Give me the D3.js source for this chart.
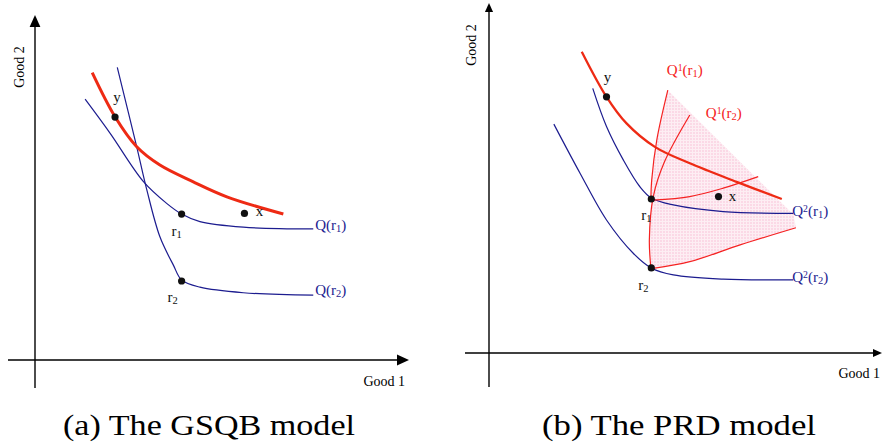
<!DOCTYPE html>
<html>
<head>
<meta charset="utf-8">
<script src="https://cdn.jsdelivr.net/npm/d3@7"></script>
<style>
  body { margin: 0; background: #fff; }
  svg text { font-family: "Liberation Serif", "DejaVu Serif", "Times New Roman", serif; }
</style>
</head>
<body>
<svg id="chart" width="883" height="448"></svg>
<script>
// ---------- panel (a): the GSQB model ----------
// curves are read off the picture, in axis units (0..100 on each axis)
const aBudget = [[15.3, 83.3], [21.4, 70.5], [27.2, 61.8], [33.4, 56.5], [42.2, 51.7], [51.3, 47.3], [66.4, 42.3]];
const aQr1 = [[13.4, 75.6], [20.1, 65.7], [29.0, 51.7], [35.2, 45.4], [39.2, 42.3], [44.1, 40.1], [55.7, 38.5], [74.4, 38.0]];
const aQr2 = [[22.0, 84.8], [27.2, 61.8], [29.9, 49.3], [33.4, 35.7], [37.0, 27.5], [39.2, 23.2], [44.1, 21.1], [55.7, 19.5], [74.4, 18.8]];
const aPoints = [
    {name: "y", x: 21.4, y: 70.4},
    {name: "x", x: 56.0, y: 42.5},
    {name: "r1", x: 39.2, y: 42.3},
    {name: "r2", x: 39.2, y: 22.9}
];

// ---------- panel (b): the PRD model ----------
const bBudget = [[23.6, 86.1], [29.9, 73.2], [35.0, 65.6], [42.2, 58.9], [51.1, 54.2], [63.0, 48.9], [74.5, 44.0]];
const bQ2r1 = [[26.4, 75.6], [29.9, 64.7], [34.2, 55.1], [38.4, 47.5], [41.4, 44.2], [46.9, 42.3], [59.6, 40.4], [77.4, 39.9]];
const bQ2r2 = [[16.5, 65.4], [23.2, 51.3], [29.9, 38.0], [36.7, 28.5], [41.4, 24.2], [46.9, 22.3], [59.6, 21.1], [77.4, 20.9]];
const bQ1r1Up = [[41.2, 43.9], [41.4, 49.4], [42.7, 60.9], [45.5, 75.1]];
const bQ1r1Right = [[41.8, 43.7], [51.1, 44.7], [59.6, 47.1], [68.5, 50.4]];
const bQ1r2Up = [[41.2, 24.2], [40.8, 32.3], [41.8, 44.7], [44.6, 54.5], [51.1, 68.0]];
const bQ1r2Right = [[41.8, 24.2], [51.1, 26.1], [63.9, 30.9], [78.1, 35.8]];
// outline of the shaded cone
const bShade = [[41.2, 24.2], [40.8, 32.3], [41.3, 43.9], [41.4, 49.4], [42.7, 60.9], [45.5, 75.1],
    [77.5, 39.5], [78.1, 35.8], [63.9, 30.9], [51.1, 26.1], [41.8, 24.2]];
const bPoints = [
    {name: "y", x: 29.9, y: 73.2},
    {name: "x", x: 58.4, y: 44.7},
    {name: "r1", x: 41.3, y: 44.0},
    {name: "r2", x: 41.3, y: 24.3}
];

const captions = ["(a) The GSQB model", "(b) The PRD model"];
const axisNames = ["Good 1", "Good 2"];

const blue = "#1c1c8f";
const red = "#ee2a14";
const thinRed = "#f52222";
const serif = "'Liberation Serif', 'DejaVu Serif', 'Times New Roman', serif";

let svg = d3.select("#chart").attr("font-family", serif);

let defs = svg.append("defs");
let pat = defs.append("pattern")
    .attr("id", "pinkGrid")
    .attr("width", 3)
    .attr("height", 3)
    .attr("patternUnits", "userSpaceOnUse");
pat.append("rect").attr("width", 3).attr("height", 3).attr("fill", "#fdeef3");
pat.append("rect").attr("width", 2).attr("height", 2).attr("fill", "#fbd9e6");

function makeScales(ox, oy, xEnd, yEnd) {
    return {
        x: d3.scaleLinear().domain([0, 100]).range([ox, xEnd]),
        y: d3.scaleLinear().domain([0, 100]).range([oy, yEnd])
    };
}

function drawAxes(g, s, left, bottom, arrow) {
    let ox = s.x(0), oy = s.y(0);
    let xt = s.x(100), yt = s.y(100);
    g.append("line")
        .attr("x1", left).attr("x2", xt - arrow).attr("y1", oy).attr("y2", oy)
        .attr("stroke", "#000").attr("stroke-width", 1.4);
    g.append("line")
        .attr("x1", ox).attr("x2", ox).attr("y1", bottom).attr("y2", yt + arrow)
        .attr("stroke", "#000").attr("stroke-width", 1.4);
    g.append("path")
        .attr("d", "M" + xt + "," + oy + "L" + (xt - arrow) + "," + (oy - arrow * 0.45) + "L" + (xt - arrow) + "," + (oy + arrow * 0.45) + "Z")
        .attr("fill", "#000");
    g.append("path")
        .attr("d", "M" + ox + "," + yt + "L" + (ox - arrow * 0.45) + "," + (yt + arrow) + "L" + (ox + arrow * 0.45) + "," + (yt + arrow) + "Z")
        .attr("fill", "#000");
}

function curve(g, s, pts, color, width) {
    let line = d3.line()
        .curve(d3.curveCatmullRom.alpha(0.5))
        .x(d => s.x(d[0]))
        .y(d => s.y(d[1]));
    g.append("path")
        .datum(pts)
        .attr("fill", "none")
        .attr("stroke", color)
        .attr("stroke-width", width)
        .attr("stroke-linecap", "butt")
        .attr("d", line);
}

// label with optional sub / superscripts: parts = [[text, "n"|"sub"|"sup"], ...]
function richLabel(g, x, y, parts, color, size, anchor) {
    let t = g.append("text")
        .attr("x", x).attr("y", y)
        .attr("fill", color)
        .attr("font-family", serif)
        .attr("font-size", size)
        .attr("text-anchor", anchor || "start");
    parts.forEach(p => {
        let ts = t.append("tspan").text(p[0]);
        if (p[1] == "sub") ts.attr("font-size", size * 0.7).attr("baseline-shift", "-22%");
        if (p[1] == "sup") ts.attr("font-size", size * 0.65).attr("baseline-shift", "45%");
    });
    return t;
}

function pointLabel(name) {
    if (name.length == 2) return [[name[0], "n"], [name[1], "sub"]];
    return [[name, "n"]];
}

function drawPoints(g, s, pts, offsets) {
    g.selectAll("circle.pt")
        .data(pts)
        .enter().append("circle")
        .attr("class", "pt")
        .attr("cx", d => s.x(d.x))
        .attr("cy", d => s.y(d.y))
        .attr("r", 3.6)
        .attr("fill", "#111");
    pts.forEach(d => {
        let o = offsets[d.name];
        richLabel(g, s.x(d.x) + o[0], s.y(d.y) + o[1], pointLabel(d.name), "#111", 15, "middle");
    });
}

function plainText(g, x, y, str, size, anchor, transform) {
    let t = g.append("text")
        .attr("font-family", serif)
        .attr("font-size", size)
        .attr("text-anchor", anchor)
        .text(str);
    if (transform) t.attr("transform", transform);
    else t.attr("x", x).attr("y", y);
    return t;
}

function endOf(pts) { return pts[pts.length - 1]; }

// ---------------- panel (a) ----------------
let gA = svg.append("g");
let sA = makeScales(35, 360, 409, 15);
drawAxes(gA, sA, 8, 388, 12);

curve(gA, sA, aQr1, blue, 1.2);
curve(gA, sA, aQr2, blue, 1.2);
curve(gA, sA, aBudget, red, 3);
drawPoints(gA, sA, aPoints, {y: [2, -15], x: [15, 3], r1: [-5, 22], r2: [-9, 21]});

richLabel(gA, sA.x(endOf(aQr1)[0]) + 2, sA.y(endOf(aQr1)[1]) + 1, [["Q(r", "n"], ["1", "sub"], [")", "n"]], blue, 15);
richLabel(gA, sA.x(endOf(aQr2)[0]) + 2, sA.y(endOf(aQr2)[1]) + 0, [["Q(r", "n"], ["2", "sub"], [")", "n"]], blue, 15);

plainText(gA, 405, 386, axisNames[0], 14, "end");
plainText(gA, 0, 0, axisNames[1], 14, "middle", "translate(24,67) rotate(-90)");

plainText(gA, 209, 435, captions[0], 30, "middle")
    .attr("textLength", 292).attr("lengthAdjust", "spacingAndGlyphs");

// ---------------- panel (b) ----------------
let gB = svg.append("g");
let sB = makeScales(489, 353, 882, 3);
drawAxes(gB, sB, 465, 387, 9);

gB.append("path")
    .datum(bShade)
    .attr("fill", "url(#pinkGrid)")
    .attr("stroke", "none")
    .attr("d", d3.line()
        .curve(d3.curveLinear)
        .x(d => sB.x(d[0]))
        .y(d => sB.y(d[1])));

curve(gB, sB, bQ2r1, blue, 1.2);
curve(gB, sB, bQ2r2, blue, 1.2);
curve(gB, sB, bQ1r1Up, thinRed, 1.2);
curve(gB, sB, bQ1r1Right, thinRed, 1.2);
curve(gB, sB, bQ1r2Up, thinRed, 1.2);
curve(gB, sB, bQ1r2Right, thinRed, 1.2);
curve(gB, sB, bBudget, red, 2.3);
drawPoints(gB, sB, bPoints, {y: [1, -15], x: [14, 4], r1: [-5, 21], r2: [-8, 22]});

richLabel(gB, sB.x(endOf(bQ2r1)[0]) - 1, sB.y(endOf(bQ2r1)[1]) + 3, [["Q", "n"], ["2", "sup"], ["(r", "n"], ["1", "sub"], [")", "n"]], blue, 15);
richLabel(gB, sB.x(endOf(bQ2r2)[0]) - 1, sB.y(endOf(bQ2r2)[1]) + 2, [["Q", "n"], ["2", "sup"], ["(r", "n"], ["2", "sub"], [")", "n"]], blue, 15);
richLabel(gB, sB.x(endOf(bQ1r1Up)[0]) - 1, sB.y(endOf(bQ1r1Up)[1]) - 15, [["Q", "n"], ["1", "sup"], ["(r", "n"], ["1", "sub"], [")", "n"]], thinRed, 15);
richLabel(gB, sB.x(endOf(bQ1r2Up)[0]) + 16, sB.y(endOf(bQ1r2Up)[1]) + 3, [["Q", "n"], ["1", "sup"], ["(r", "n"], ["2", "sub"], [")", "n"]], thinRed, 15);

plainText(gB, 880, 378, axisNames[0], 14, "end");
plainText(gB, 0, 0, axisNames[1], 14, "middle", "translate(476,45) rotate(-90)");

plainText(gB, 679, 435, captions[1], 30, "middle")
    .attr("textLength", 274).attr("lengthAdjust", "spacingAndGlyphs");
</script>
</body>
</html>
